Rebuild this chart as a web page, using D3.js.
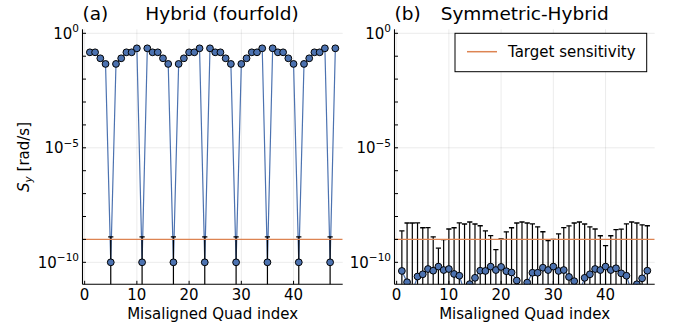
<!DOCTYPE html>
<html>
<head>
<meta charset="utf-8">
<script src="https://cdn.jsdelivr.net/npm/d3@7"></script>
<style>
  body { margin: 0; background: #fff; }
  svg { display: block; }
  text { font-family: "DejaVu Sans", sans-serif; fill: #000; }
</style>
</head>
<body>
<svg id="chart" width="673" height="330"></svg>
<script>
// Misaligned quadrupole index (1..48)
const quadIndex = d3.range(1, 49);

// Panel (a): hybrid fourfold ring, sensitivity and its uncertainty [rad/s]
const hybridSens = [
  0.148, 0.148, 0.081, 0.046, 1e-10, 0.046, 0.081, 0.148, 0.148, 0.221,
  1e-10, 0.221, 0.148, 0.148, 0.081, 0.046, 1e-10, 0.046, 0.081, 0.148,
  0.148, 0.221, 1e-10, 0.221, 0.148, 0.148, 0.081, 0.046, 1e-10, 0.046,
  0.081, 0.148, 0.148, 0.221, 1e-10, 0.221, 0.148, 0.148, 0.081, 0.046,
  1e-10, 0.046, 0.081, 0.148, 0.148, 0.221, 1e-10, 0.221
];
const hybridErr = [
  0, 0, 0, 0, 1.2e-9, 0, 0, 0, 0, 0,
  1.2e-9, 0, 0, 0, 0, 0, 1.2e-9, 0, 0, 0,
  0, 0, 1.2e-9, 0, 0, 0, 0, 0, 1.2e-9, 0,
  0, 0, 0, 0, 1.2e-9, 0, 0, 0, 0, 0,
  1.2e-9, 0, 0, 0, 0, 0, 1.2e-9, 0
];

// Panel (b): symmetric-hybrid ring
const symSens = [
  4.2e-11, 1.35e-11, 5e-12, 2.4e-11, 3.0e-11, 5.1e-11, 4.3e-11, 6.5e-11, 4.6e-11, 5.1e-11,
  3.1e-11, 2.6e-11, 5e-12, 1.12e-11, 2.1e-11, 4.3e-11, 4.2e-11, 6.5e-11, 4.6e-11, 6.3e-11,
  4.1e-11, 3.6e-11, 1.6e-11, 5e-12, 1.3e-11, 3.5e-11, 3.5e-11, 5.8e-11, 4.6e-11, 6.5e-11,
  4.2e-11, 4.6e-11, 2.3e-11, 1.5e-11, 5e-12, 2.1e-11, 3.0e-11, 5.1e-11, 4.6e-11, 6.5e-11,
  4.6e-11, 5.5e-11, 3.3e-11, 2.6e-11, 5e-12, 1.1e-11, 2.0e-11, 4.3e-11
];
const symErr = [
  2.3e-9, 5.2e-9, 5.2e-9, 5.2e-9, 3.2e-9, 3.2e-9, 1.26e-9, 3.5e-10, 9.3e-10, 2.8e-9,
  3.2e-9, 5.2e-9, 4.7e-9, 5.75e-9, 4.7e-9, 3.9e-9, 2.3e-9, 1.4e-9, 3.1e-10, 1.0e-9,
  2.1e-9, 3.2e-9, 5.2e-9, 5.75e-9, 5.2e-9, 4.7e-9, 3.5e-9, 2.1e-9, 8.5e-10, 9.3e-10,
  1.7e-9, 3.2e-9, 3.9e-9, 5.2e-9, 5.75e-9, 4.7e-9, 3.5e-9, 2.8e-9, 1.4e-9, 4.7e-10,
  1.4e-9, 2.6e-9, 2.8e-9, 4.7e-9, 5.75e-9, 5.2e-9, 4.3e-9, 3.9e-9
];

const targetSensitivity = 1e-9;

const xTickValues = [0, 10, 20, 30, 40];
const yLabelExponents = [0, -5, -10];
const yDecadeExponents = [0, -1, -2, -3, -4, -5, -6, -7, -8, -9, -10];
const panelTags = ["(a)", "(b)"];
const panelTitles = ["Hybrid (fourfold)", "Symmetric-Hybrid"];
const xAxisTitle = "Misaligned Quad index";
const legendLabel = "Target sensitivity";

const seriesBlue = "#4C72B0";
const targetOrange = "#DD8452";

const svg = d3.select("#chart");

const plotTop = 29.3, plotBottom = 284.3;
const panels = [
  { left: 82.5, right: 342.7, sens: hybridSens, err: hybridErr, tag: panelTags[0], title: panelTitles[0], titleX: 222, legend: false },
  { left: 394.5, right: 654.7, sens: symSens, err: symErr, tag: panelTags[1], title: panelTitles[1], titleX: 524.7, legend: true }
];

const y = d3.scaleLog()
  .domain([Math.pow(10, -10.96), Math.pow(10, 0.175)])
  .range([plotBottom, plotTop]);

panels.forEach((p, pi) => {
  const x = d3.scaleLinear().domain([-0.41, 49.41]).range([p.left, p.right]);
  const g = svg.append("g");
  const clipId = "clip" + pi;
  svg.append("defs").append("clipPath").attr("id", clipId)
    .append("rect").attr("x", p.left).attr("y", plotTop).attr("width", p.right - p.left).attr("height", plotBottom - plotTop);

  // grid
  g.append("g").selectAll("line").data(xTickValues).join("line")
    .attr("x1", d => x(d)).attr("x2", d => x(d)).attr("y1", plotTop).attr("y2", plotBottom)
    .attr("stroke", "#000").attr("stroke-opacity", 0.1).attr("stroke-width", 0.8);
  g.append("g").selectAll("line").data(yLabelExponents).join("line")
    .attr("x1", p.left).attr("x2", p.right).attr("y1", d => y(Math.pow(10, d))).attr("y2", d => y(Math.pow(10, d)))
    .attr("stroke", "#000").attr("stroke-opacity", 0.1).attr("stroke-width", 0.8);

  const plot = g.append("g").attr("clip-path", `url(#${clipId})`);
  const pts = quadIndex.map((q, i) => ({ q, v: p.sens[i], e: p.err[i] }));

  // connecting line
  plot.append("path").datum(pts)
    .attr("fill", "none").attr("stroke", seriesBlue).attr("stroke-width", 1.2)
    .attr("d", d3.line().x(d => x(d.q)).y(d => y(d.v)));

  // error bars
  const eb = pts.filter(d => d.e > 0);
  const lowY = d => (d.v - d.e > 0 ? y(d.v - d.e) : plotBottom + 10);
  plot.append("g").selectAll("line").data(eb).join("line")
    .attr("x1", d => x(d.q)).attr("x2", d => x(d.q))
    .attr("y1", d => y(d.v + d.e)).attr("y2", lowY)
    .attr("stroke", "#000").attr("stroke-width", 1.2);
  plot.append("g").selectAll("line").data(eb).join("line")
    .attr("x1", d => x(d.q) - 2.6).attr("x2", d => x(d.q) + 2.6)
    .attr("y1", d => y(d.v + d.e)).attr("y2", d => y(d.v + d.e))
    .attr("stroke", "#000").attr("stroke-width", 1.3);

  // target sensitivity
  plot.append("line")
    .attr("x1", p.left).attr("x2", p.right)
    .attr("y1", y(targetSensitivity)).attr("y2", y(targetSensitivity))
    .attr("stroke", targetOrange).attr("stroke-width", 1.3);

  // markers
  plot.append("g").selectAll("circle").data(pts).join("circle")
    .attr("cx", d => x(d.q)).attr("cy", d => y(d.v)).attr("r", 3.4)
    .attr("fill", seriesBlue).attr("stroke", "#000").attr("stroke-width", 1);

  // axis lines
  g.append("line").attr("x1", p.left).attr("x2", p.left).attr("y1", plotTop).attr("y2", plotBottom)
    .attr("stroke", "#000").attr("stroke-width", 1.1);
  g.append("line").attr("x1", p.left).attr("x2", p.right).attr("y1", plotBottom).attr("y2", plotBottom)
    .attr("stroke", "#000").attr("stroke-width", 1.1);

  // ticks (pointing inward)
  g.append("g").selectAll("line").data(xTickValues).join("line")
    .attr("x1", d => x(d)).attr("x2", d => x(d)).attr("y1", plotBottom).attr("y2", plotBottom - 3.5)
    .attr("stroke", "#000").attr("stroke-width", 1);
  g.append("g").selectAll("line").data(yDecadeExponents).join("line")
    .attr("x1", p.left).attr("x2", p.left + 3.5)
    .attr("y1", d => y(Math.pow(10, d))).attr("y2", d => y(Math.pow(10, d)))
    .attr("stroke", "#000").attr("stroke-width", 1);

  // tick labels
  g.append("g").selectAll("text").data(xTickValues).join("text")
    .attr("x", d => x(d)).attr("y", 300).attr("text-anchor", "middle")
    .attr("font-size", 15).text(d => d);
  const yl = g.append("g").selectAll("text").data(yLabelExponents).join("text")
    .attr("x", p.left - 3.5).attr("y", d => y(Math.pow(10, d)) + 5.3)
    .attr("text-anchor", "end").attr("font-size", 15);
  yl.append("tspan").text("10");
  yl.append("tspan").attr("dy", -6.5).attr("font-size", 10.5)
    .text(d => (d < 0 ? "\u2212" + (-d) : String(d)));

  // axis title
  g.append("text").attr("x", (p.left + p.right) / 2).attr("y", 318.5)
    .attr("text-anchor", "middle").attr("font-size", 15).text(xAxisTitle);

  // panel title and tag
  g.append("text").attr("x", p.titleX).attr("y", 20).attr("text-anchor", "middle")
    .attr("font-size", 18.5).text(p.title);
  g.append("text").attr("x", p.left).attr("y", 20).attr("font-size", 18.5).text(p.tag);

  if (p.legend) {
    const lg = g.append("g");
    lg.append("rect").attr("x", 455).attr("y", 33.3).attr("width", 191.7).attr("height", 38.4)
      .attr("fill", "#fff").attr("stroke", "#000").attr("stroke-width", 1);
    lg.append("line").attr("x1", 467).attr("x2", 497).attr("y1", 51.7).attr("y2", 51.7)
      .attr("stroke", targetOrange).attr("stroke-width", 1.5);
    lg.append("text").attr("x", 508).attr("y", 57).attr("font-size", 15).text(legendLabel);
  }
});

// y axis title
const yt = svg.append("text").attr("transform", "translate(28.5,157) rotate(-90)")
  .attr("text-anchor", "middle").attr("font-size", 15);
yt.append("tspan").attr("font-style", "italic").text("S");
yt.append("tspan").attr("font-style", "italic").attr("font-size", 10.5).attr("dy", 3).text("y");
yt.append("tspan").attr("dy", -3).text(" [rad/s]");
</script>
</body>
</html>
